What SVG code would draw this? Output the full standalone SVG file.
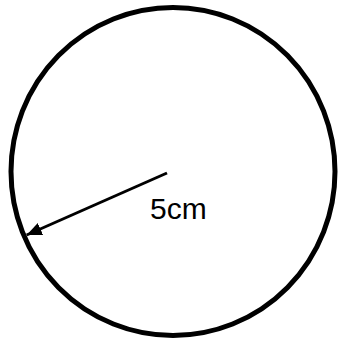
<svg xmlns="http://www.w3.org/2000/svg" width="338" height="340" viewBox="0 0 338 340">
<defs>
<style>
.outline{fill:none;stroke:#000;stroke-width:5}
.conn{stroke:#000;stroke-width:3;fill:none}
.lbl{font-family:"Liberation Sans",Arial,sans-serif;font-size:30px;fill:#000}
</style>
<marker id="arr" markerUnits="userSpaceOnUse" markerWidth="16" markerHeight="14" refX="15" refY="6.5" orient="auto" viewBox="0 0 16 13">
<path d="M0,0 L15,6.5 L0,13 Z" fill="#000"/>
</marker>
</defs>
<rect width="338" height="340" fill="#fff"/>
<g id="circle">
<ellipse class="outline" cx="173" cy="171.5" rx="162" ry="164"/>
</g>
<g id="connectors">
<line class="conn" x1="167" y1="173" x2="26.7" y2="235" marker-end="url(#arr)"/>
</g>
<g id="label">
<text class="lbl" x="150" y="219">5cm</text>
</g>
</svg>
